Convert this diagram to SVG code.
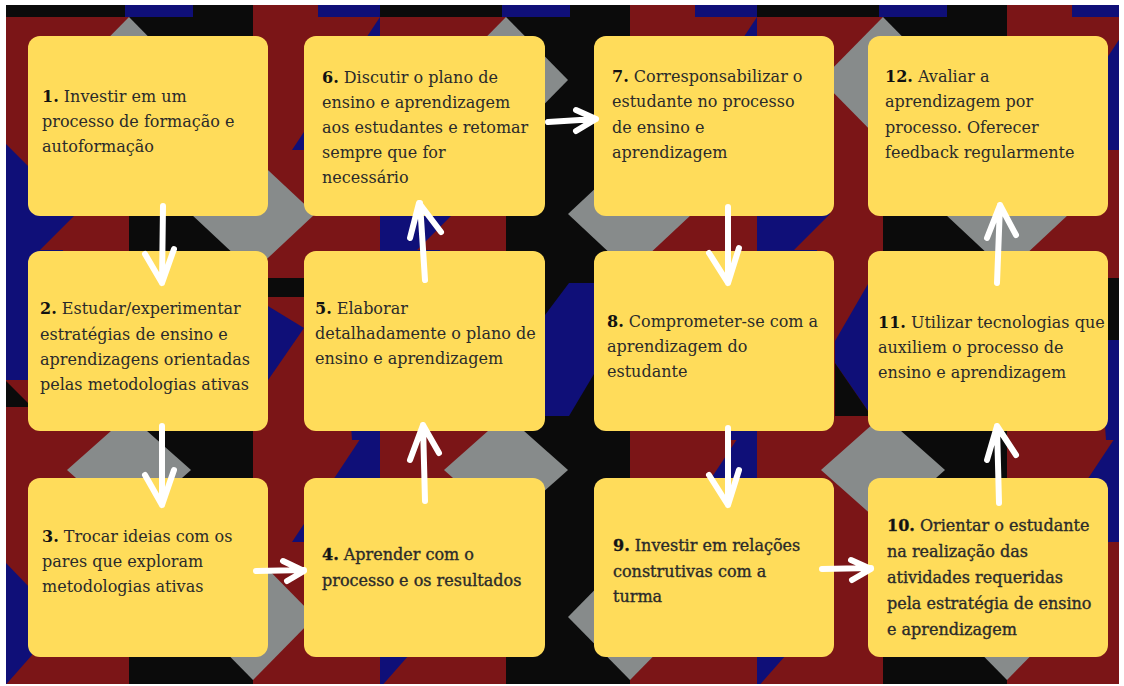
<svg xmlns="http://www.w3.org/2000/svg" width="1124" height="686" viewBox="0 0 1124 686">
<defs>
<style>
.r{fill:#7b1517}.b{fill:#0f0f78}.g{fill:#878b8b}.k{fill:#0b0b0b}
.box{fill:#ffdc5a}
.t{font-family:"DejaVu Serif","Liberation Serif",serif;font-size:16px;fill:#2a2a2a}
.a{stroke:#2a2a2a;stroke-width:0.35}
.n{font-weight:bold;fill:#111}
.arr{fill:none;stroke:#fff;stroke-width:6;stroke-linecap:round;stroke-linejoin:round}
</style>
<clipPath id="frame"><rect x="6" y="5" width="1113" height="679"/></clipPath>
<g id="tile">
<rect class="r" x="3" y="17" width="126" height="668"/>
<rect class="r" x="253" y="5" width="127" height="680"/>
<rect class="b" x="125" y="5" width="68" height="12"/>
<rect class="b" x="318" y="5" width="62" height="12"/>
<polygon class="b" points="380,17 380,150 292,150"/>
<polygon class="b" points="380,409 380,542 292,542"/>
<polygon class="b" points="3,141 76,214 3,287"/>
<rect class="b" x="3" y="250" width="60" height="130"/>
<polygon class="k" points="3,378 32,407 3,407"/>
<polygon class="b" points="3,560 32,590 32,655 3,688"/>
<polygon class="b" points="81,341 114,284 126,284 126,411 114,411 81,363"/>
<polygon class="k" points="81,363 114,411 126,411 126,416 81,416"/>
<polygon class="b" points="168,315 192,283 217,283 217,374 192,416 168,416"/>
<rect class="k" x="253" y="278" width="55" height="19"/>
<polygon class="b" points="253,297 304,328 253,402"/>
<rect class="k" x="345" y="278" width="35" height="62"/>
<polygon class="b" points="345,340 380,340 380,440 352,440"/>
<polygon class="g" points="129,17 191,80 129,143 67,80"/>
<polygon class="g" points="253,156 315,214 253,272 191,214"/>
<polygon class="g" points="129,415 191,470 129,525 67,470"/>
<polygon class="g" points="253,554 315,617 253,680 191,617"/>
</g>
</defs>
<rect x="0" y="0" width="1124" height="686" fill="#fff"/>
<g id="background" clip-path="url(#frame)">
<rect class="k" x="6" y="5" width="1113" height="679"/>
<use href="#tile"/>
<use href="#tile" x="377"/>
<use href="#tile" x="754"/>
</g>

<g id="n1"><rect class="box" x="28" y="36" width="240" height="180" rx="12"/>
<text class="t"><tspan x="42" y="102"><tspan class="n">1.</tspan> Investir em um</tspan><tspan x="42" y="127">processo de formação e</tspan><tspan x="42" y="152">autoformação</tspan></text></g>
<g id="n2"><rect class="box" x="28" y="251" width="240" height="180" rx="12"/>
<text class="t"><tspan x="40" y="314"><tspan class="n">2.</tspan> Estudar/experimentar</tspan><tspan x="40" y="340">estratégias de ensino e</tspan><tspan x="40" y="365">aprendizagens orientadas</tspan><tspan x="40" y="390">pelas metodologias ativas</tspan></text></g>
<g id="n3"><rect class="box" x="28" y="478" width="240" height="179" rx="12"/>
<text class="t"><tspan x="42" y="542"><tspan class="n">3.</tspan> Trocar ideias com os</tspan><tspan x="42" y="567">pares que exploram</tspan><tspan x="42" y="592">metodologias ativas</tspan></text></g>
<g id="n4"><rect class="box" x="304" y="478" width="241" height="179" rx="12"/>
<text class="t a"><tspan x="322" y="560"><tspan class="n">4.</tspan> Aprender com o</tspan><tspan x="322" y="586">processo e os resultados</tspan></text></g>
<g id="n5"><rect class="box" x="304" y="251" width="241" height="180" rx="12"/>
<text class="t"><tspan x="315" y="314"><tspan class="n">5.</tspan> Elaborar</tspan><tspan x="315" y="339">detalhadamente o plano de</tspan><tspan x="315" y="364">ensino e aprendizagem</tspan></text></g>
<g id="n6"><rect class="box" x="304" y="36" width="241" height="180" rx="12"/>
<text class="t"><tspan x="322" y="83"><tspan class="n">6.</tspan> Discutir o plano de</tspan><tspan x="322" y="108">ensino e aprendizagem</tspan><tspan x="322" y="133">aos estudantes e retomar</tspan><tspan x="322" y="158">sempre que for</tspan><tspan x="322" y="183">necessário</tspan></text></g>
<g id="n7"><rect class="box" x="594" y="36" width="240" height="180" rx="12"/>
<text class="t"><tspan x="612" y="82"><tspan class="n">7.</tspan> Corresponsabilizar o</tspan><tspan x="612" y="107">estudante no processo</tspan><tspan x="612" y="133">de ensino e</tspan><tspan x="612" y="158">aprendizagem</tspan></text></g>
<g id="n8"><rect class="box" x="594" y="251" width="240" height="180" rx="12"/>
<text class="t"><tspan x="607" y="327"><tspan class="n">8.</tspan> Comprometer-se com a</tspan><tspan x="607" y="352">aprendizagem do</tspan><tspan x="607" y="377">estudante</tspan></text></g>
<g id="n9"><rect class="box" x="594" y="478" width="240" height="179" rx="12"/>
<text class="t a"><tspan x="613" y="551"><tspan class="n">9.</tspan> Investir em relações</tspan><tspan x="613" y="577">construtivas com a</tspan><tspan x="613" y="602">turma</tspan></text></g>
<g id="n10"><rect class="box" x="868" y="478" width="240" height="179" rx="12"/>
<text class="t a"><tspan x="887" y="531"><tspan class="n">10.</tspan> Orientar o estudante</tspan><tspan x="887" y="557">na realização das</tspan><tspan x="887" y="583">atividades requeridas</tspan><tspan x="887" y="609">pela estratégia de ensino</tspan><tspan x="887" y="635">e aprendizagem</tspan></text></g>
<g id="n11"><rect class="box" x="868" y="251" width="240" height="180" rx="12"/>
<text class="t"><tspan x="878" y="328"><tspan class="n">11.</tspan> Utilizar tecnologias que</tspan><tspan x="878" y="353">auxiliem o processo de</tspan><tspan x="878" y="378">ensino e aprendizagem</tspan></text></g>
<g id="n12"><rect class="box" x="868" y="36" width="240" height="180" rx="12"/>
<text class="t"><tspan x="885" y="82"><tspan class="n">12.</tspan> Avaliar a</tspan><tspan x="885" y="107">aprendizagem por</tspan><tspan x="885" y="133">processo. Oferecer</tspan><tspan x="885" y="158">feedback regularmente</tspan></text></g>

<g id="connectors" class="arr">
<path d="M163,206 L162,283 M145,254 L162,283 L174,249"/>
<path d="M162,426 L162,505 M145,475 L162,505 L174,470"/>
<path d="M256,571 L304,570 M283,561 L304,571 L287,581"/>
<path d="M425,501 L423,425 M410,460 L423,425 L439,453"/>
<path d="M425,280 L420,203 M410,238 L419,203 L441,232"/>
<path d="M548,122 L596,119 M576,110 L596,119 L576,131"/>
<path d="M728,207 L728,283 M709,253 L728,283 L739,248"/>
<path d="M728,428 L728,505 M709,475 L728,505 L739,470"/>
<path d="M822,569 L871,568 M851,560 L871,569 L852,580"/>
<path d="M999,503 L997,426 M987,460 L997,426 L1016,455"/>
<path d="M997,283 L1000,205 M987,238 L1000,205 L1016,235"/>
</g>
</svg>
